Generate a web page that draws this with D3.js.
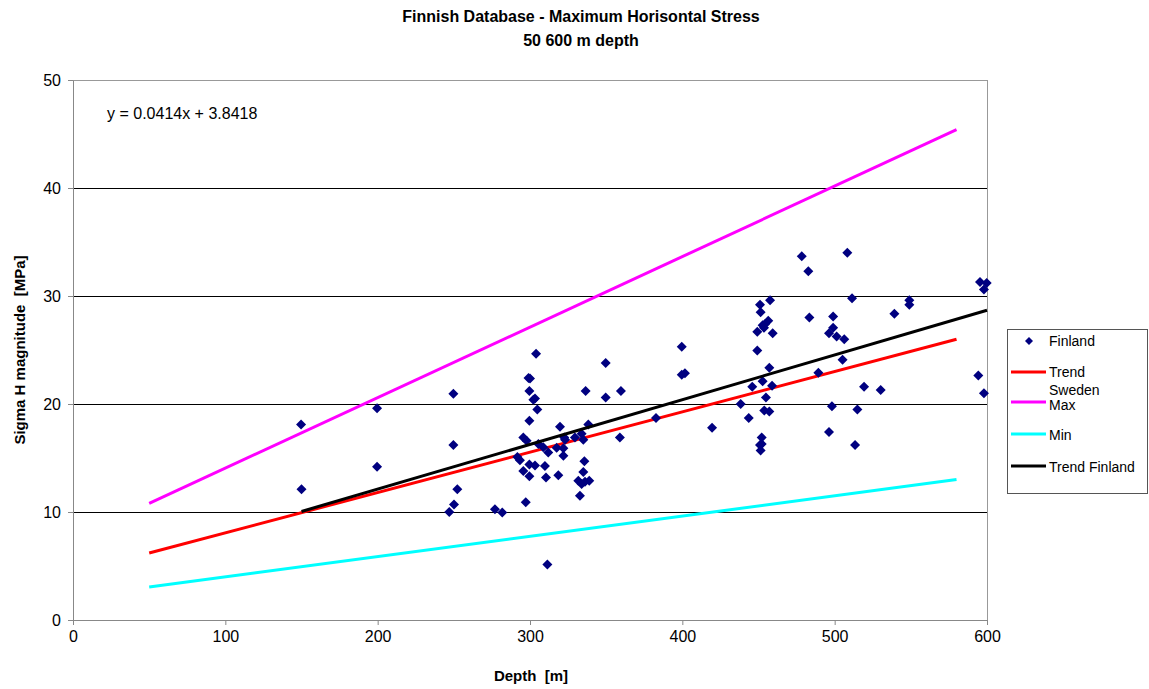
<!DOCTYPE html>
<html>
<head>
<meta charset="utf-8">
<script src="https://cdn.jsdelivr.net/npm/d3@7"></script>
<style>
  body { margin: 0; background: #fff; }
  svg { font-family: "Liberation Sans", Arial, sans-serif; }
</style>
</head>
<body>
<svg id="chart" width="1149" height="689"></svg>
<script>
// Measured sigma H values (depth in m, stress in MPa)
const depth = [
  149.7, 150, 199.6, 199.6, 249.7, 249.7, 252.3, 250.1, 247, 277, 281.8,
  304, 299, 300, 299.6, 302.2, 303.3, 304.8, 299.6, 295.6, 297.8, 305.5,
  308.7, 312, 291.7, 293.4, 299.6, 303.3, 309.8, 295.6, 299.6, 310.5,
  297.2, 311.4, 319.7, 322.5, 323, 317.5, 321.9, 321.9, 318.6, 329.5,
  333.9, 335, 338.3, 335.7, 335, 331.7, 333.9, 336.1, 338.9, 332.8,
  336.5, 349.7, 349.7, 359.7, 359,
  382.7, 399.6, 399.6, 401.7, 419.5, 438.3, 443.6, 445.9, 449.2, 449.2,
  451, 451.4, 452.7, 453.6, 454.3, 456.4, 457.6, 459.3, 457.1, 452.7,
  458.9, 454.9, 453.8, 457.1, 452.1, 451, 452.1, 451.4, 478.4, 482.7,
  483.4, 489.3, 496.3, 499, 499, 501.3, 498.2, 496.3, 505.2, 506.3,
  508.3, 511.4, 513.4, 514.9, 519.3, 530.2, 539.2, 549, 549, 594.3,
  595.4, 598, 599.8, 598
];
const stress = [
  18.1, 12.1, 19.6, 14.2, 20.95, 16.2, 12.1, 10.7, 10.0, 10.26, 9.95,
  24.65, 22.4, 22.35, 21.2, 20.4, 20.5, 19.5, 18.45, 16.9, 16.6, 16.3,
  16.0, 15.5, 15.1, 14.8, 14.4, 14.3, 14.26, 13.8, 13.3, 13.2,
  10.9, 5.15, 17.9, 16.9, 16.7, 15.96, 15.9, 15.2, 13.4, 16.9,
  17.25, 16.7, 18.1, 14.7, 13.7, 12.9, 12.6, 12.8, 12.9, 11.5,
  21.2, 23.8, 20.6, 21.2, 16.9,
  18.7, 25.3, 22.7, 22.85, 17.8, 20.0, 18.7, 21.6, 26.7, 24.95,
  29.2, 28.5, 27.3, 27.05, 27.4, 27.7, 29.6, 26.55, 23.35, 22.1,
  21.7, 20.6, 19.4, 19.3, 16.9, 16.2, 16.3, 15.7, 33.67, 32.3,
  28.0, 22.9, 26.55, 28.1, 27.05, 26.25, 19.8, 17.4, 24.1, 26.0,
  34.0, 29.8, 16.2, 19.5, 21.6, 21.3, 28.35, 29.6, 29.2, 22.65,
  31.3, 30.6, 31.2, 21.0
];

// Reference lines (end points)
const trendX = [50, 580];
const trendY = [6.2, 26.0];
const swedenMaxY = [10.8, 45.4];
const swedenMinY = [3.05, 13.0];

// Linear fit of the Finnish data
const fitSlope = 0.0414;
const fitIntercept = 3.8418;
const fitX = [150, 600];

const xTicks = [0, 100, 200, 300, 400, 500, 600];
const yTicks = [0, 10, 20, 30, 40, 50];

const titleLines = ["Finnish Database - Maximum Horisontal Stress", "50 600 m depth"];

const svg = d3.select("#chart");
const plot = { left: 73, right: 987, top: 80, bottom: 620 };

const x = d3.scaleLinear().domain([0, 600]).range([plot.left, plot.right]);
const y = d3.scaleLinear().domain([0, 50]).range([plot.bottom, plot.top]);

// Horizontal gridlines (half-pixel offset keeps them sharp)
svg.append("g").selectAll("line").data(yTicks.filter(t => t > 0 && t < 50)).join("line")
  .attr("x1", plot.left).attr("x2", plot.right)
  .attr("y1", d => Math.round(y(d)) + 0.5).attr("y2", d => Math.round(y(d)) + 0.5)
  .attr("stroke", "#000").attr("stroke-width", 1);

// Plot frame
svg.append("rect")
  .attr("x", plot.left + 0.5).attr("y", plot.top + 0.5)
  .attr("width", plot.right - plot.left).attr("height", plot.bottom - plot.top)
  .attr("fill", "none").attr("stroke", "#999").attr("stroke-width", 1);

// Axes
const xAxis = svg.append("g").attr("transform", `translate(0,${plot.bottom})`)
  .call(d3.axisBottom(x).tickValues(xTicks).tickSize(5).tickSizeOuter(0).tickPadding(6));
const yAxis = svg.append("g").attr("transform", `translate(${plot.left},0)`)
  .call(d3.axisLeft(y).tickValues(yTicks).tickSize(5).tickSizeOuter(0).tickPadding(7));
[xAxis, yAxis].forEach(a => {
  a.select(".domain").attr("stroke", "#888");
  a.selectAll(".tick line").attr("stroke", "#888");
  a.selectAll(".tick text").attr("font-size", 16).attr("fill", "#000")
    .attr("font-family", "'Liberation Sans', Arial, sans-serif");
});

const line = d3.line().x(d => x(d[0])).y(d => y(d[1]));

const lines = [
  { name: "Trend", color: "#ff0000", pts: trendX.map((v, i) => [v, trendY[i]]) },
  { name: "Max", color: "#ff00ff", pts: trendX.map((v, i) => [v, swedenMaxY[i]]) },
  { name: "Min", color: "#00ffff", pts: trendX.map((v, i) => [v, swedenMinY[i]]) }
];
lines.forEach(l => {
  svg.append("path").attr("d", line(l.pts)).attr("fill", "none")
    .attr("stroke", l.color).attr("stroke-width", 3);
});

// Data points
const diamond = "M0,-5L5,0L0,5L-5,0Z";
svg.append("g").selectAll("path").data(depth.map((d, i) => [d, stress[i]])).join("path")
  .attr("d", diamond)
  .attr("transform", d => `translate(${x(d[0])},${y(d[1])})`)
  .attr("fill", "#000080");

// Fitted trend line
svg.append("path").attr("d", line(fitX.map(v => [v, fitSlope * v + fitIntercept])))
  .attr("fill", "none").attr("stroke", "#000").attr("stroke-width", 3);

// Equation label
svg.append("text").attr("x", 107).attr("y", 119).attr("font-size", 16)
  .text(`y = ${fitSlope}x + ${fitIntercept}`);

// Titles
svg.selectAll(".title").data(titleLines).join("text")
  .attr("x", 581).attr("y", (d, i) => 22 + i * 24)
  .attr("text-anchor", "middle").attr("font-size", 16).attr("font-weight", "bold")
  .text(d => d);

svg.append("text").attr("x", 531).attr("y", 681)
  .attr("text-anchor", "middle").attr("font-size", 15).attr("font-weight", "bold")
  .attr("xml:space", "preserve").text("Depth  [m]");

svg.append("text")
  .attr("transform", "translate(25,350) rotate(-90)")
  .attr("text-anchor", "middle").attr("font-size", 15).attr("font-weight", "bold")
  .attr("xml:space", "preserve").text("Sigma H magnitude  [MPa]");

// Legend
const lg = svg.append("g");
lg.append("rect").attr("x", 1007.5).attr("y", 329.5).attr("width", 140).attr("height", 164)
  .attr("fill", "#fff").attr("stroke", "#555").attr("stroke-width", 1);
lg.append("path").attr("d", diamond).attr("transform", "translate(1029,341) scale(0.8)")
  .attr("fill", "#000080");
lg.append("text").attr("x", 1049).attr("y", 346).attr("font-size", 14).text("Finland");
const legendLines = [
  { color: "#ff0000", y: 372, labels: ["Trend"], ty: [377] },
  { color: "#ff00ff", y: 402, labels: ["Sweden", "Max"], ty: [395, 410] },
  { color: "#00ffff", y: 434, labels: ["Min"], ty: [440] },
  { color: "#000", y: 466, labels: ["Trend Finland"], ty: [472] }
];
legendLines.forEach(e => {
  lg.append("line").attr("x1", 1011).attr("x2", 1046).attr("y1", e.y).attr("y2", e.y)
    .attr("stroke", e.color).attr("stroke-width", 3);
  e.labels.forEach((t, i) => {
    lg.append("text").attr("x", 1049).attr("y", e.ty[i]).attr("font-size", 14).text(t);
  });
});
</script>
</body>
</html>
